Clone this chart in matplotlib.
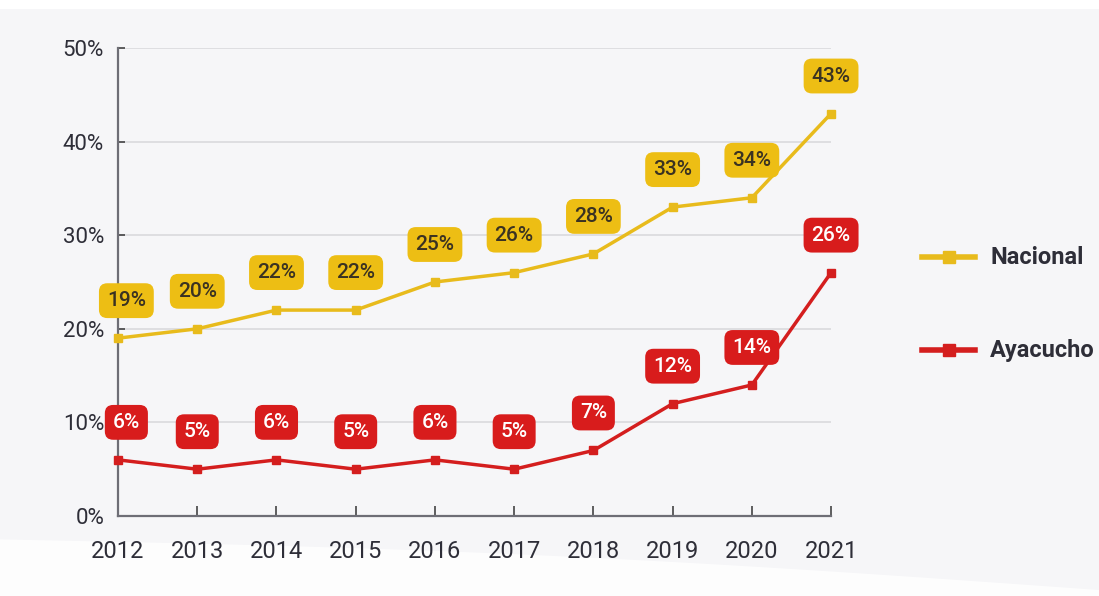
import matplotlib
matplotlib.use("Agg")
import matplotlib.pyplot as plt
from matplotlib.lines import Line2D
from matplotlib.patches import Polygon, Rectangle
import numpy as np

years = [2012, 2013, 2014, 2015, 2016, 2017, 2018, 2019, 2020, 2021]
nacional = [19, 20, 22, 22, 25, 26, 28, 33, 34, 43]
ayacucho = [6, 5, 6, 5, 6, 5, 7, 12, 14, 26]
series_names = ["Nacional", "Ayacucho"]
y_ticks = [0, 10, 20, 30, 40, 50]

YELLOW = "#E8BB1C"
YELLOW_BOX = "#EDBE14"
RED = "#D41E1E"
RED_BOX = "#D81C1C"
TEXT = "#2E2E38"
BG = "#F6F6F8"

plt.rcParams["font.family"] = ["Roboto", "DejaVu Sans"]

fig = plt.figure(figsize=(10.99, 5.96), dpi=100, facecolor=BG)

# white strip along the top and a soft white wave along the bottom
fig.patches.append(Rectangle((0, 0.985), 1, 0.015, transform=fig.transFigure,
                             facecolor="white", edgecolor="none", zorder=-2))
t = np.linspace(0, 1, 200)
wave = 0.095 - 0.085 * t + 0.015 * np.sin(np.pi * t)
pts = np.column_stack([np.r_[t, 1, 0], np.r_[wave, 0, 0]])
fig.patches.append(Polygon(pts, closed=True, transform=fig.transFigure,
                           facecolor="white", edgecolor="none", alpha=0.8, zorder=-2))

ax = fig.add_axes([0.1074, 0.1342, 0.6488, 0.7853])
ax.set_facecolor("none")

ax.plot(years, nacional, color=YELLOW, lw=2.5, marker="s", ms=6,
        mfc=YELLOW, mec=YELLOW, clip_on=False, zorder=3, label=series_names[0])
ax.plot(years, ayacucho, color=RED, lw=2.5, marker="s", ms=6,
        mfc=RED, mec=RED, clip_on=False, zorder=3, label=series_names[1])


def label_points(values, box_color, text_color):
    for i, (x, v) in enumerate(zip(years, values)):
        dx = 6 if i == 0 else 0  # keep the first box clear of the y axis
        ax.annotate(f"{v}%", (x, v), xytext=(dx, 27), textcoords="offset points",
                    ha="center", va="center", fontsize=15, fontweight="medium",
                    color=text_color,
                    bbox=dict(boxstyle="round,pad=0.38,rounding_size=0.4",
                              fc=box_color, ec="none"), zorder=4)


label_points(nacional, YELLOW_BOX, "#3A3222")
label_points(ayacucho, RED_BOX, "white")

ax.set_xlim(years[0], years[-1])
ax.set_ylim(0, 50)
ax.set_xticks(years)
ax.set_xticklabels([str(y) for y in years])
ax.set_yticks(y_ticks)
ax.set_yticklabels([f"{v}%" for v in y_ticks])

ax.grid(axis="y", color="#DCDCDF", lw=1.3, zorder=0)
ax.set_axisbelow(True)
for s in ["top", "right"]:
    ax.spines[s].set_visible(False)
for s in ["left", "bottom"]:
    ax.spines[s].set_color("#6E6E76")
    ax.spines[s].set_linewidth(1.6)

ax.tick_params(axis="x", direction="in", length=7, width=1.2, color="#444",
               labelsize=17, labelcolor=TEXT, pad=17)
ax.tick_params(axis="y", direction="in", length=5, width=1.2, color="#444",
               labelsize=16, labelcolor=TEXT, pad=10)

# legend drawn at the right of the plot
legend_rows = [(series_names[0], YELLOW, 1 - 257 / 596),
               (series_names[1], RED, 1 - 350 / 596)]
for name, col, yf in legend_rows:
    fig.add_artist(Line2D([922 / 1099, 975 / 1099], [yf, yf],
                          transform=fig.transFigure, color=col, lw=4))
    fig.add_artist(Line2D([948.5 / 1099], [yf], transform=fig.transFigure,
                          color=col, marker="s", ms=9, mfc=col, mec=col))
    fig.text(990 / 1099, yf, name, transform=fig.transFigure, ha="left",
             va="center", fontsize=17, fontweight="bold", color=TEXT)

fig.savefig("out.png", dpi=100, facecolor=BG)
